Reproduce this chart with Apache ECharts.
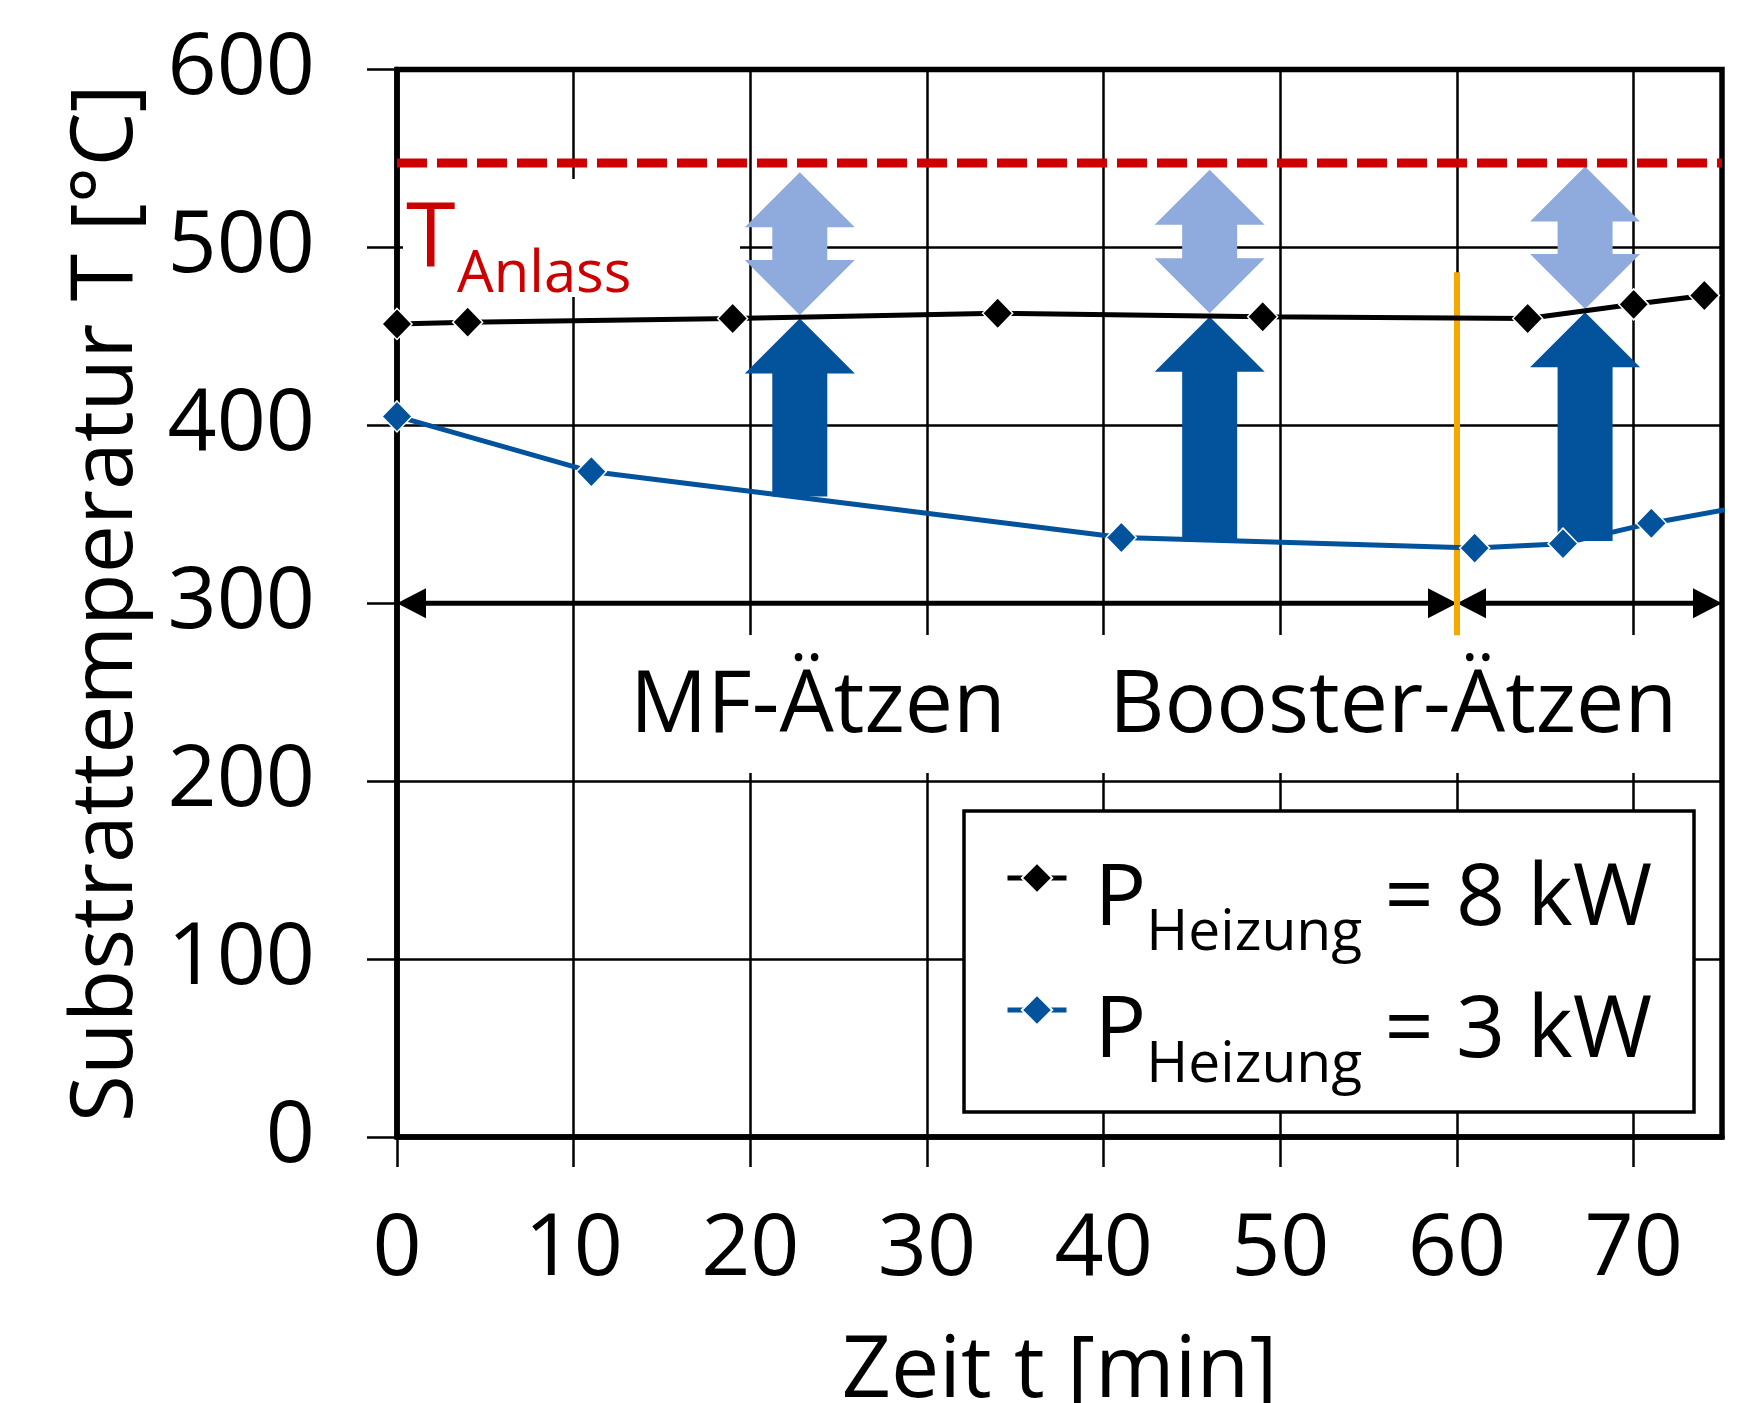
<!DOCTYPE html>
<html>
<head>
<meta charset="utf-8">
<script src="https://cdn.jsdelivr.net/npm/echarts@6/dist/echarts.min.js"></script>
<style>
html, body { margin: 0; padding: 0; background: #fff; }
#chart { width: 1757px; height: 1403px; }
</style>
</head>
<body>
<div id="chart"></div>
<script>
// Messwerte: Substrattemperatur über der Zeit
const time8kW = [0, 4, 19, 34, 49, 64, 70, 74];
const temp8kW = [457, 458, 460, 463, 461, 460, 468, 473];
const time3kW = [0, 11, 41, 61, 66, 71, 76];
const temp3kW = [405, 374, 337, 331, 333.5, 345, 354];

const xTicks = [0, 10, 20, 30, 40, 50, 60, 70];
const tAnlass = 547.5;

// Blockpfeile: Position, dunkler Pfeil von/bis, heller Doppelpfeil von/bis
const arrowX = [22.8, 46, 67.25];
const darkFrom = [360, 336, 335];
const darkTo = [460, 461, 463.6];
const lightFrom = [462, 463, 465.4];
const lightTo = [542.2, 543.7, 545.5];

// Phasen (MF-Ätzen / Booster-Ätzen)
const phaseFrom = [0, 60];
const phaseTo = [60, 75];
const phaseLevel = 300;
const boosterStart = 60;
const boosterLine = [486, 282];

const FONT = 'Open Sans';
const cBlue = '#02529C';
const cLight = '#8FAADC';
const cRed = '#CC0000';
const cOrange = '#F5A800';

const chart = echarts.init(document.getElementById('chart'));

// dicker Pfeil nach oben + heller Doppelpfeil darüber
function renderBlockArrow(params, api) {
    const x = api.value(0);
    const dBase = api.coord([x, api.value(1)]);
    const dTip = api.coord([x, api.value(2)]);
    const lBot = api.coord([x, api.value(3)]);
    const lTop = api.coord([x, api.value(4)]);
    const cx = dTip[0];
    const hw = 55, sw = 27.5, hh = 55;
    const dark = [
        [cx, dTip[1]], [cx + hw, dTip[1] + hh], [cx + sw, dTip[1] + hh],
        [cx + sw, dBase[1]], [cx - sw, dBase[1]],
        [cx - sw, dTip[1] + hh], [cx - hw, dTip[1] + hh]
    ];
    const light = [
        [cx, lTop[1]], [cx + hw, lTop[1] + hh], [cx + sw, lTop[1] + hh],
        [cx + sw, lBot[1] - hh], [cx + hw, lBot[1] - hh], [cx, lBot[1]],
        [cx - hw, lBot[1] - hh], [cx - sw, lBot[1] - hh],
        [cx - sw, lTop[1] + hh], [cx - hw, lTop[1] + hh]
    ];
    return {
        type: 'group',
        children: [
            { type: 'polygon', shape: { points: light }, style: { fill: cLight } },
            { type: 'polygon', shape: { points: dark }, style: { fill: cBlue } }
        ]
    };
}

// waagerechter Doppelpfeil für eine Phase
function renderSpan(params, api) {
    const a = api.coord([api.value(0), api.value(2)]);
    const b = api.coord([api.value(1), api.value(2)]);
    const L = 29, H = 15;
    return {
        type: 'group',
        children: [
            { type: 'line', shape: { x1: a[0] + L - 2, y1: a[1], x2: b[0] - L + 2, y2: b[1] },
              style: { stroke: '#000', lineWidth: 5 } },
            { type: 'polygon', shape: { points: [[a[0], a[1]], [a[0] + L, a[1] - H], [a[0] + L, a[1] + H]] },
              style: { fill: '#000' } },
            { type: 'polygon', shape: { points: [[b[0], b[1]], [b[0] - L, b[1] - H], [b[0] - L, b[1] + H]] },
              style: { fill: '#000' } }
        ]
    };
}

const bigText = { fontFamily: FONT, fontSize: 86, color: '#000' };

chart.setOption({
    animation: false,
    backgroundColor: '#fff',
    grid: {
        left: 397, top: 69.5, right: 35, bottom: 266,
        show: true, borderColor: '#000', borderWidth: 5.5,
        outerBoundsMode: 'none'
    },
    xAxis: {
        type: 'value', min: 0, max: 75, interval: 10,
        name: 'Zeit t [min]', nameLocation: 'middle', nameGap: 192,
        nameTextStyle: bigText,
        axisLine: { show: true, onZero: false, lineStyle: { color: '#000', width: 5.5 } },
        axisTick: { show: true, length: 30, customValues: xTicks, lineStyle: { color: '#000', width: 2.5 } },
        axisLabel: Object.assign({ customValues: xTicks, margin: 70 }, bigText),
        splitLine: { show: true, lineStyle: { color: '#000', width: 2.5 } }
    },
    yAxis: {
        type: 'value', min: 0, max: 600, interval: 100,
        name: 'Substrattemperatur T [°C]', nameLocation: 'middle', nameGap: 247,
        nameTextStyle: bigText,
        axisLine: { show: true, lineStyle: { color: '#000', width: 5.5 } },
        axisTick: { show: true, length: 30, lineStyle: { color: '#000', width: 2.5 } },
        axisLabel: Object.assign({ margin: 82 }, bigText),
        splitLine: { show: true, lineStyle: { color: '#000', width: 2.5 } }
    },
    legend: {
        data: ['8 kW', '3 kW'],
        orient: 'vertical',
        left: 1005, top: 857,
        padding: 0,
        itemWidth: 59, itemHeight: 38,
        itemGap: 27,
        lineStyle: { width: 5 },
        formatter: name => '{p|P}{s|Heizung}{e| = ' + name + '}',
        textStyle: {
            fontFamily: FONT, color: '#000',
            rich: {
                p: { fontFamily: FONT, fontSize: 86, color: '#000', padding: [63, 0, 19, 23], verticalAlign: 'bottom' },
                s: { fontFamily: FONT, fontSize: 57, color: '#000', verticalAlign: 'bottom' },
                e: { fontFamily: FONT, fontSize: 86, color: '#000', padding: [63, 0, 19, 0], verticalAlign: 'bottom' }
            }
        }
    },
    graphic: [
        { type: 'rect', z: 1, shape: { x: 403, y: 179, width: 337, height: 118 }, style: { fill: '#fff' } },
        { type: 'rect', z: 1, shape: { x: 610, y: 635, width: 1107, height: 138 }, style: { fill: '#fff' } },
        { type: 'rect', z: 3, shape: { x: 964, y: 811, width: 730, height: 301 },
          style: { fill: '#fff', stroke: '#000', lineWidth: 3.5 } },
        { type: 'text', z: 3, x: 406, y: 241,
          style: { text: 'T', fontFamily: FONT, fontSize: 90, fill: cRed, align: 'left', verticalAlign: 'middle' } },
        { type: 'text', z: 3, x: 457, y: 275,
          style: { text: 'Anlass', fontFamily: FONT, fontSize: 58, fill: cRed, align: 'left', verticalAlign: 'middle' } },
        { type: 'text', z: 3, x: 630, y: 707,
          style: { text: 'MF-Ätzen', fontFamily: FONT, fontSize: 86, fill: '#000', align: 'left', verticalAlign: 'middle' } },
        { type: 'text', z: 3, x: 1109, y: 707,
          style: { text: 'Booster-Ätzen', fontFamily: FONT, fontSize: 86, fill: '#000', align: 'left', verticalAlign: 'middle' } }
    ],
    series: [
        {
            type: 'custom', silent: true, z: 2,
            renderItem: renderBlockArrow,
            data: arrowX.map((x, i) => [x, darkFrom[i], darkTo[i], lightFrom[i], lightTo[i]])
        },
        {
            type: 'custom', silent: true, z: 3,
            renderItem: renderSpan,
            data: phaseFrom.map((f, i) => [f, phaseTo[i], phaseLevel])
        },
        {
            type: 'line', silent: true, z: 4, symbol: 'none',
            data: [[0, tAnlass], [75, tAnlass]],
            lineStyle: { color: cRed, width: 9, type: [30, 10] }
        },
        {
            type: 'line', silent: true, z: 4, symbol: 'none',
            data: boosterLine.map(v => [boosterStart, v]),
            lineStyle: { color: cOrange, width: 6 }
        },
        {
            name: '8 kW', type: 'line', z: 5,
            data: time8kW.map((t, i) => [t, temp8kW[i]]),
            symbol: 'diamond', symbolSize: [30, 31],
            lineStyle: { color: '#000', width: 5 },
            itemStyle: { color: '#000', borderColor: '#fff', borderWidth: 1.5 }
        },
        {
            name: '3 kW', type: 'line', z: 5,
            data: time3kW.map((t, i) => [t, temp3kW[i]]),
            symbol: 'diamond', symbolSize: [30, 31],
            lineStyle: { color: cBlue, width: 5 },
            itemStyle: { color: cBlue, borderColor: '#fff', borderWidth: 1.5 }
        }
    ]
});
</script>
</body>
</html>
